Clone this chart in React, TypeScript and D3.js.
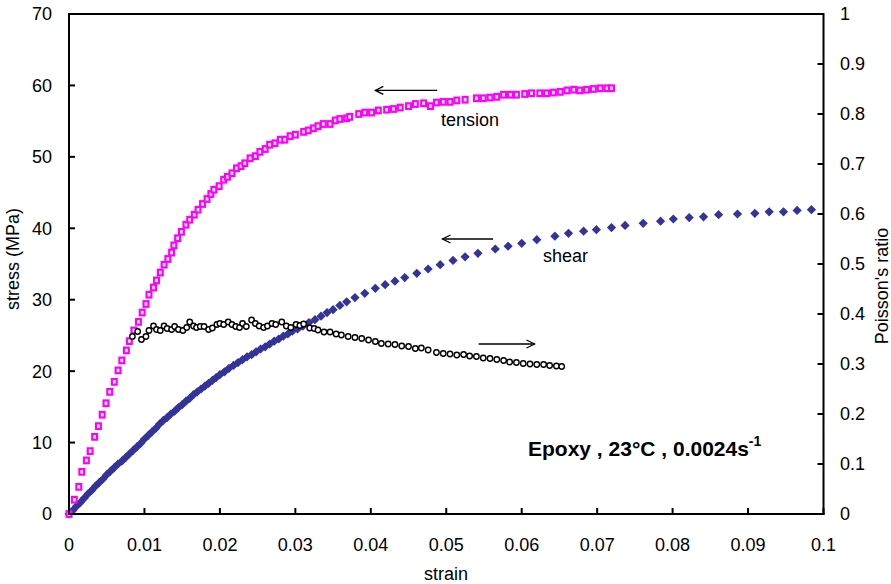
import React from "react";
import * as d3 from "d3";

const xTicks = [0, 0.01, 0.02, 0.03, 0.04, 0.05, 0.06, 0.07, 0.08, 0.09, 0.1];
const xTickLabels = ["0", "0.01", "0.02", "0.03", "0.04", "0.05", "0.06", "0.07", "0.08", "0.09", "0.1"];
const yLeftTicks = [0, 10, 20, 30, 40, 50, 60, 70];
const yRightTicks = [0, 0.1, 0.2, 0.3, 0.4, 0.5, 0.6, 0.7, 0.8, 0.9, 1];
const yRightLabels = ["0", "0.1", "0.2", "0.3", "0.4", "0.5", "0.6", "0.7", "0.8", "0.9", "1"];

// tension: [strain, stress MPa]
const tension: [number, number][] = [
  [0, 0], [0.0007, 2.0], [0.0013, 3.8], [0.0017, 5.9], [0.0023, 7.5], [0.0028, 8.8], [0.0034, 10.8],
  [0.0039, 12.3], [0.0044, 13.9], [0.0049, 15.5], [0.0054, 17.1], [0.006, 18.5], [0.0065, 20.1],
  [0.007, 21.5], [0.0076, 22.9], [0.008, 24.2], [0.0086, 25.7], [0.0092, 26.9], [0.0097, 28.2],
  [0.0102, 29.4], [0.0106, 30.7], [0.0112, 31.7], [0.0116, 32.7], [0.0121, 33.8], [0.0126, 34.9],
  [0.0131, 35.7], [0.0136, 36.6], [0.0139, 37.6], [0.0144, 38.6], [0.0149, 39.5], [0.0155, 40.5],
  [0.016, 41.2], [0.0166, 41.9], [0.0171, 42.6], [0.0177, 43.4], [0.0183, 44.1], [0.0188, 44.8],
  [0.0192, 45.4], [0.0199, 45.9], [0.0205, 46.8], [0.021, 47.2], [0.0216, 47.7], [0.0222, 48.4],
  [0.0228, 48.7], [0.0233, 49.1], [0.024, 49.8], [0.0247, 50.1], [0.0253, 50.7], [0.026, 51.1],
  [0.0266, 51.7], [0.0273, 51.9], [0.028, 52.4], [0.0286, 52.4], [0.0293, 52.9], [0.03, 53.1],
  [0.0311, 53.5], [0.0317, 53.7], [0.0324, 54.0], [0.033, 54.3], [0.0337, 54.6], [0.0346, 54.6],
  [0.0353, 55.1], [0.0359, 55.3], [0.0368, 55.4], [0.0372, 55.6], [0.0384, 56.0], [0.0392, 56.2],
  [0.0401, 56.2], [0.041, 56.5], [0.0421, 56.6], [0.043, 56.7], [0.0439, 56.9], [0.045, 57.1],
  [0.0459, 57.4], [0.047, 57.5], [0.0479, 57.1], [0.0487, 57.6], [0.0496, 57.7], [0.0505, 57.7],
  [0.0514, 57.9], [0.0525, 58.0], [0.054, 58.2], [0.0549, 58.2], [0.0558, 58.3], [0.0567, 58.4],
  [0.0576, 58.7], [0.0585, 58.7], [0.0593, 58.7], [0.0604, 58.8], [0.0613, 58.9], [0.0624, 58.9],
  [0.0633, 58.9], [0.0642, 59.0], [0.0651, 59.1], [0.066, 59.3], [0.0669, 59.4], [0.0677, 59.3],
  [0.0686, 59.4], [0.0695, 59.5], [0.0704, 59.6], [0.0713, 59.6], [0.0719, 59.6],
];

// shear: [strain, stress MPa]
const shear: [number, number][] = [
  [0, 0], [0.0005, 0.5], [0.001, 1.1], [0.0015, 1.6], [0.002, 2.2], [0.0025, 2.8], [0.003, 3.3],
  [0.0035, 3.9], [0.004, 4.4], [0.0045, 4.9], [0.005, 5.5], [0.0055, 6.0], [0.006, 6.5], [0.0065, 7.0],
  [0.007, 7.4], [0.0075, 7.9], [0.008, 8.4], [0.0085, 8.9], [0.009, 9.4], [0.0095, 9.9], [0.01, 10.5],
  [0.0105, 11.0], [0.011, 11.5], [0.0115, 12.0], [0.012, 12.6], [0.0125, 13.1], [0.013, 13.5],
  [0.0135, 14.0], [0.014, 14.4], [0.0145, 14.9], [0.015, 15.3], [0.0155, 15.8], [0.016, 16.2],
  [0.0165, 16.7], [0.017, 17.1], [0.0175, 17.5], [0.018, 17.9], [0.0185, 18.3], [0.019, 18.7],
  [0.0195, 19.1], [0.02, 19.5], [0.0206, 19.9], [0.0212, 20.4], [0.0218, 20.8], [0.0224, 21.2],
  [0.023, 21.6], [0.0236, 22.0], [0.0242, 22.3], [0.0248, 22.7], [0.0254, 23.1], [0.026, 23.4],
  [0.0266, 23.8], [0.0272, 24.2], [0.0278, 24.5], [0.0284, 24.9], [0.029, 25.2], [0.0296, 25.6],
  [0.0303, 25.9], [0.031, 26.3], [0.0318, 26.8], [0.0326, 27.2], [0.0334, 27.7], [0.0342, 28.2],
  [0.035, 28.6], [0.0359, 29.2], [0.0368, 29.7], [0.0379, 30.3], [0.0392, 30.9], [0.0406, 31.6],
  [0.0419, 32.1], [0.0432, 32.6], [0.0445, 33.1], [0.0461, 33.7], [0.0476, 34.3], [0.0492, 34.9],
  [0.0509, 35.5], [0.0525, 36.0], [0.0542, 36.5], [0.0565, 37.1], [0.0582, 37.5], [0.06, 37.9],
  [0.062, 38.4], [0.0644, 38.9], [0.0662, 39.3], [0.0682, 39.6], [0.0699, 39.8], [0.0719, 40.1],
  [0.0737, 40.4], [0.0761, 40.7], [0.0784, 41.0], [0.0801, 41.3], [0.0822, 41.5], [0.0841, 41.6],
  [0.0861, 41.9], [0.0886, 42.0], [0.0909, 42.1], [0.0928, 42.3], [0.0947, 42.3], [0.0965, 42.5],
  [0.0984, 42.6],
];

// Poisson's ratio: [strain, ratio]
const poisson: [number, number][] = [
  [0.0084, 0.355], [0.0091, 0.365], [0.0096, 0.349], [0.0102, 0.355], [0.0106, 0.367], [0.0112, 0.376],
  [0.0116, 0.369], [0.0121, 0.367], [0.0126, 0.376], [0.013, 0.371], [0.0136, 0.369], [0.014, 0.375],
  [0.0145, 0.369], [0.0151, 0.367], [0.0156, 0.373], [0.016, 0.384], [0.0165, 0.376], [0.0169, 0.373],
  [0.0174, 0.375], [0.0179, 0.375], [0.0185, 0.369], [0.019, 0.372], [0.0196, 0.379], [0.02, 0.381],
  [0.0205, 0.379], [0.0211, 0.384], [0.0216, 0.379], [0.0221, 0.375], [0.0226, 0.373], [0.023, 0.381],
  [0.0235, 0.375], [0.0242, 0.388], [0.0247, 0.381], [0.0252, 0.376], [0.0258, 0.373], [0.0263, 0.376],
  [0.0269, 0.381], [0.0274, 0.379], [0.0282, 0.384], [0.0288, 0.376], [0.0294, 0.373], [0.0301, 0.379],
  [0.0306, 0.377], [0.0311, 0.38], [0.0319, 0.372], [0.0325, 0.371], [0.033, 0.368], [0.0338, 0.364],
  [0.0346, 0.364], [0.0354, 0.36], [0.0361, 0.358], [0.037, 0.355], [0.0379, 0.353], [0.0388, 0.351],
  [0.0397, 0.348], [0.0406, 0.345], [0.0414, 0.341], [0.0423, 0.34], [0.0432, 0.339], [0.0441, 0.336],
  [0.045, 0.335], [0.0459, 0.331], [0.0467, 0.332], [0.0476, 0.328], [0.0487, 0.323], [0.0496, 0.321],
  [0.0505, 0.32], [0.0514, 0.318], [0.0523, 0.319], [0.0531, 0.316], [0.054, 0.315], [0.0549, 0.312],
  [0.0558, 0.311], [0.0567, 0.309], [0.0576, 0.307], [0.0584, 0.304], [0.0593, 0.303], [0.0602, 0.301],
  [0.0611, 0.3], [0.062, 0.299], [0.0629, 0.299], [0.0637, 0.297], [0.0646, 0.296], [0.0653, 0.295],
];

// annotation arrows in data coordinates: [x1, y1, x2, y2]
const tensionArrow = [0.0488, 59.3, 0.0406, 59.3];
const shearArrow = [0.0562, 38.5, 0.0495, 38.5];
const poissonArrow = [0.0543, 0.34, 0.0617, 0.34];

const FONT = "Arial, 'Liberation Sans', sans-serif";

export default function App() {
  const left = 69, right = 823.5, top = 14, bottom = 514;
  const x = d3.scaleLinear().domain([0, 0.1]).range([left, right]);
  const yL = d3.scaleLinear().domain([0, 70]).range([bottom, top]);
  const yR = d3.scaleLinear().domain([0, 1]).range([bottom, top]);
  const diamond = d3.symbol().type(d3.symbolDiamond2 || d3.symbolDiamond).size(54)();

  const arrow = (x1: number, y1: number, x2: number, y2: number, key: string) => {
    const dir = Math.sign(x2 - x1);
    return (
      <g key={key} stroke="#000" strokeWidth={1.3} fill="none">
        <line x1={x1} y1={y1} x2={x2} y2={y2} />
        <path d={`M${x2 - dir * 8},${y2 - 4} L${x2},${y2} L${x2 - dir * 8},${y2 + 4}`} />
      </g>
    );
  };

  return (
    <svg width={891} height={584} style={{ position: "absolute", left: 0, top: 0, background: "#fff" }} fontFamily={FONT}>
      <rect width={891} height={584} fill="#fff" />
      {/* shear */}
      <g fill="#333399">
        {shear.map((d, i) => (
          <path key={i} d={diamond} transform={`translate(${x(d[0])},${yL(d[1])})`} />
        ))}
      </g>
      {/* tension */}
      <g fill="#fff" stroke="#ff00ff" strokeWidth={2.2}>
        {tension.map((d, i) => (
          <rect key={i} x={x(d[0]) - 2.4} y={yL(d[1]) - 2.8} width={4.8} height={5.6} />
        ))}
      </g>
      {/* poisson */}
      <g fill="#fff" stroke="#000" strokeWidth={1.4}>
        {poisson.map((d, i) => (
          <circle key={i} cx={x(d[0])} cy={yR(d[1])} r={2.7} />
        ))}
      </g>

      {/* frame */}
      <g stroke="#000" strokeWidth={2} fill="none">
        <line x1={left} y1={top} x2={right} y2={top} />
        <line x1={left} y1={top - 1} x2={left} y2={bottom + 1} />
        <line x1={right} y1={top - 1} x2={right} y2={bottom + 1} />
        <line x1={left - 1} y1={bottom} x2={right + 1} y2={bottom} />
        {xTicks.map((t, i) => (
          <line key={"xt" + i} x1={x(t)} x2={x(t)} y1={bottom} y2={bottom - 6} />
        ))}
        {yLeftTicks.map((t, i) => (
          <line key={"yl" + i} x1={left} x2={left + 6} y1={yL(t)} y2={yL(t)} />
        ))}
        {yRightTicks.map((t, i) => (
          <line key={"yr" + i} x1={right} x2={right - 6} y1={yR(t)} y2={yR(t)} />
        ))}
      </g>

      <g fontSize={18} fill="#000">
        {xTicks.map((t, i) => (
          <text key={"xl" + i} x={x(t)} y={551} textAnchor="middle">{xTickLabels[i]}</text>
        ))}
        {yLeftTicks.map((t, i) => (
          <text key={"yll" + i} x={52} y={yL(t)} dy="0.36em" textAnchor="end">{t}</text>
        ))}
        {yRightTicks.map((t, i) => (
          <text key={"yrl" + i} x={840} y={yR(t)} dy="0.36em" textAnchor="start">{yRightLabels[i]}</text>
        ))}
        <text x={446} y={580} textAnchor="middle">strain</text>
        <text transform="translate(19,259) rotate(-90)" textAnchor="middle">stress (MPa)</text>
        <text transform="translate(888,286) rotate(-90)" textAnchor="middle">Poisson's ratio</text>
        <text x={441} y={126}>tension</text>
        <text x={543} y={262}>shear</text>
      </g>

      {arrow(x(tensionArrow[0]), yL(tensionArrow[1]), x(tensionArrow[2]), yL(tensionArrow[3]), "a1")}
      {arrow(x(shearArrow[0]), yL(shearArrow[1]), x(shearArrow[2]), yL(shearArrow[3]), "a2")}
      {arrow(x(poissonArrow[0]), yR(poissonArrow[1]), x(poissonArrow[2]), yR(poissonArrow[3]), "a3")}

      <text x={528} y={456} fontSize={21} fontWeight="bold" fill="#000">
        Epoxy , 23°C , 0.0024s
        <tspan fontSize={14} dy={-10}>-1</tspan>
      </text>
    </svg>
  );
}
